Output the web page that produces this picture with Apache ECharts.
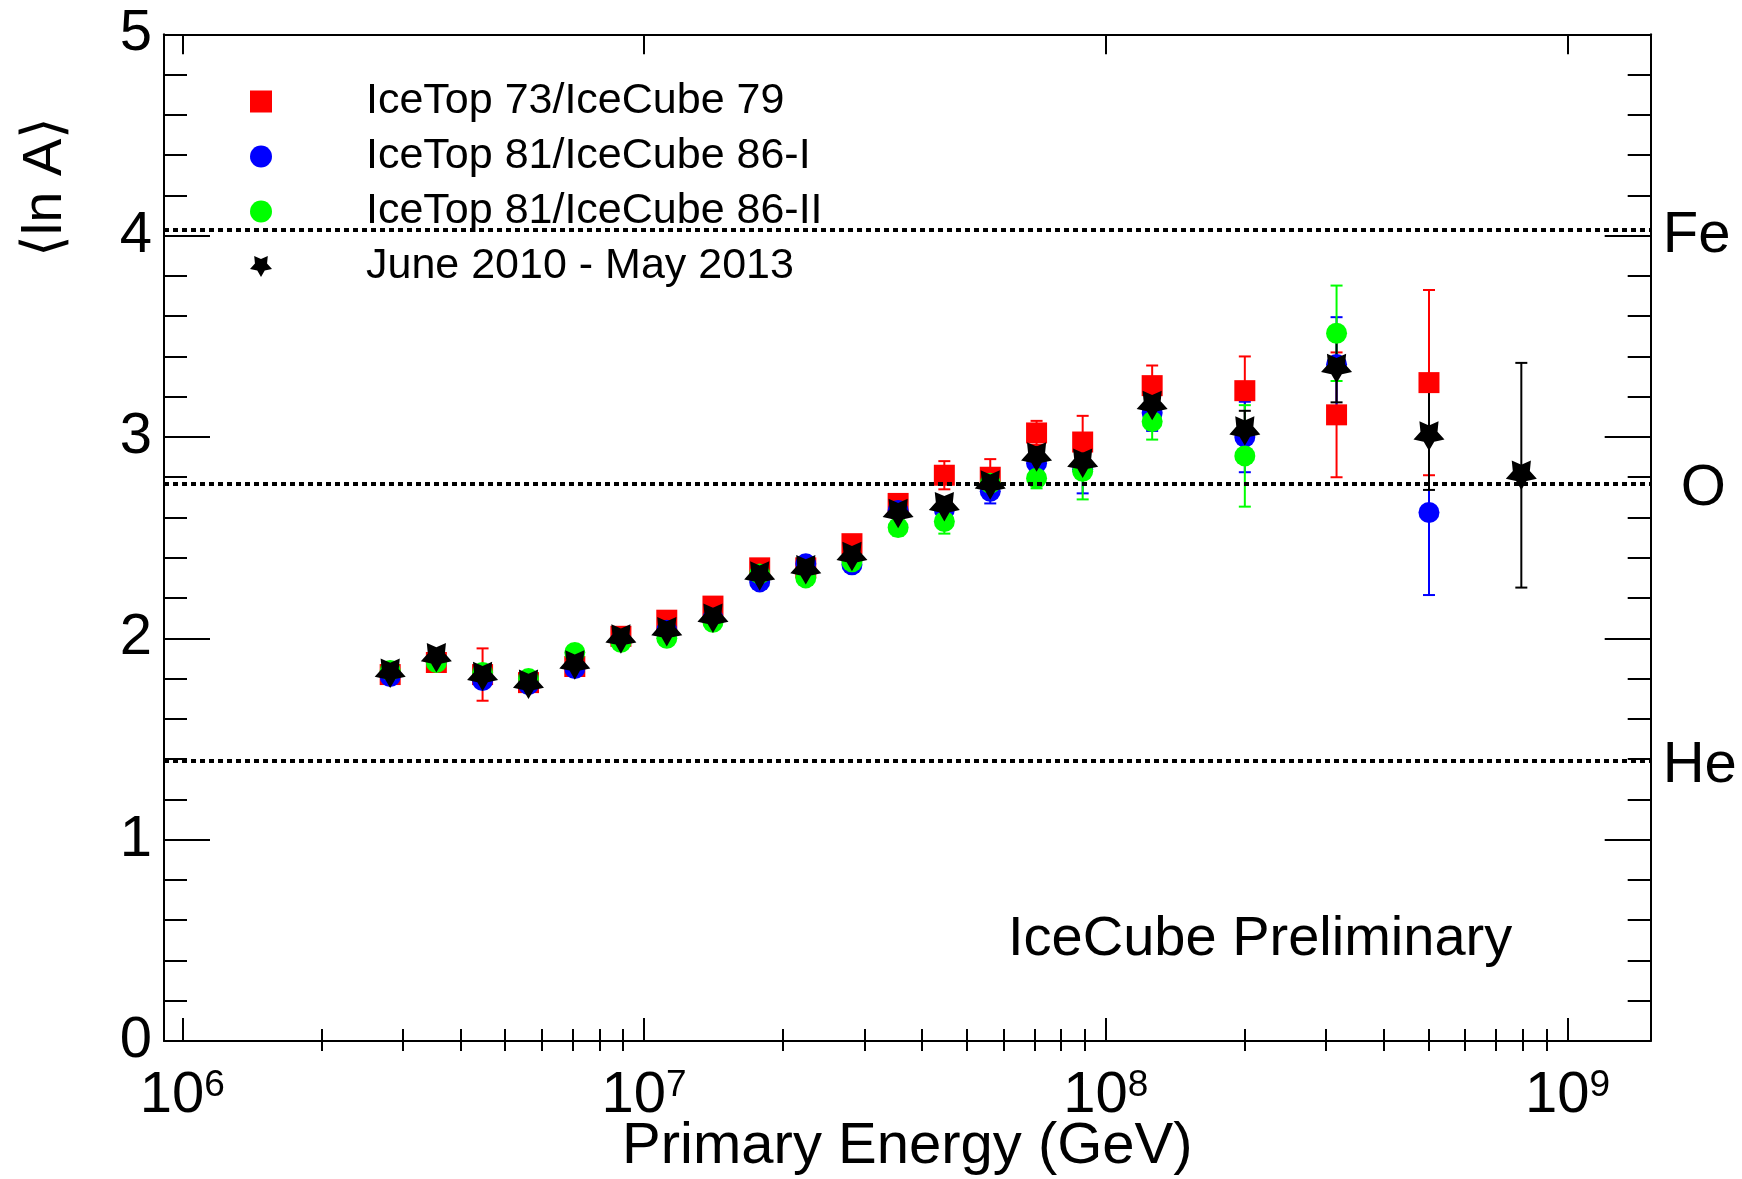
<!DOCTYPE html>
<html><head><meta charset="utf-8">
<script src="https://cdn.jsdelivr.net/npm/echarts@6/dist/echarts.min.js"></script>
<style>html,body{margin:0;padding:0;background:#fff}#c{width:1742px;height:1179px}</style>
</head><body><div id="c"></div>
<script>
// ---- data ----
const energyGeV = [2.82e6, 3.55e6, 4.47e6, 5.62e6, 7.08e6, 8.91e6, 1.12e7, 1.41e7, 1.78e7, 2.24e7,
                   2.82e7, 3.55e7, 4.47e7, 5.62e7, 7.08e7, 8.91e7, 1.26e8, 2.00e8, 3.16e8, 5.01e8, 7.94e8];
const lnA_IT73 = [1.82, 1.88, 1.82, 1.78, 1.86, 2.01, 2.09, 2.16, 2.35, 2.35, 2.47, 2.67, 2.81, 2.80, 3.02, 2.975, 3.255, 3.23, 3.11, 3.27];
const err_IT73 = [0.03, 0.03, 0.13, 0.03, 0.03, 0.03, 0.03, 0.03, 0.03, 0.03, 0.03, 0.04, 0.07, 0.09, 0.06, 0.13, 0.10, 0.17, 0.31, 0.46];
const lnA_IT81_I = [1.81, 1.89, 1.79, 1.77, 1.85, 1.99, 2.04, 2.10, 2.28, 2.37, 2.365, 2.635, 2.64, 2.73, 2.87, 2.84, 3.12, 3.00, 3.36, 2.625];
const err_IT81_I = [0.03, 0.03, 0.03, 0.03, 0.03, 0.03, 0.03, 0.03, 0.03, 0.03, 0.03, 0.04, 0.05, 0.06, 0.05, 0.12, 0.09, 0.175, 0.235, 0.41];
const lnA_IT81_II = [1.84, 1.88, 1.83, 1.80, 1.93, 1.98, 2.00, 2.08, 2.32, 2.30, 2.38, 2.55, 2.58, 2.77, 2.795, 2.83, 3.077, 2.906, 3.515];
const err_IT81_II = [0.03, 0.03, 0.03, 0.03, 0.03, 0.03, 0.03, 0.03, 0.03, 0.03, 0.03, 0.04, 0.06, 0.07, 0.05, 0.14, 0.09, 0.252, 0.237];
const lnA_all = [1.826, 1.903, 1.81, 1.772, 1.868, 1.997, 2.033, 2.10, 2.31, 2.34, 2.406, 2.62, 2.654, 2.762, 2.90, 2.87, 3.156, 3.03, 3.34, 3.005, 2.81];
const err_all = [0.03, 0.03, 0.03, 0.03, 0.03, 0.03, 0.03, 0.03, 0.03, 0.03, 0.03, 0.03, 0.04, 0.05, 0.05, 0.07, 0.108, 0.10, 0.168, 0.268, 0.558];
const seriesNames = ['IceTop 73/IceCube 79', 'IceTop 81/IceCube 86-I', 'IceTop 81/IceCube 86-II', 'June 2010 - May 2013'];
const xDecades = [6, 7, 8, 9];
const yTicks = [0, 1, 2, 3, 4, 5];
const refNames = ['Fe', 'O', 'He', 'p'];
const refMass = [56, 16, 4, 1];

// ---- styling ----
const FONT = 'Liberation Sans, Arial, Helvetica, sans-serif';
const XMIN = 5.9604, XMAX = 9.180;
// inverted five-pointed star (fat inner radius)
const STAR = 'path://M100 200 L67.7 144.5 L4.9 130.9 L47.7 83 L41.2 19.1 L100 45 L158.8 19.1 L152.3 83 L195.1 130.9 L132.3 144.5 Z';
const colors = ['#ff0000', '#0000ff', '#00ff00', '#000000'];
const symbols = ['rect', 'circle', 'circle', STAR];
const symSizes = [21, 21, 21, 31];
const labelDist = {Fe: 12, O: 30, He: 12, p: 38};
const labelShift = {Fe: 6.5, O: 5.5, He: 4.5, p: 0};

const values = [lnA_IT73, lnA_IT81_I, lnA_IT81_II, lnA_all];
const errors = [err_IT73, err_IT81_I, err_IT81_II, err_all];
const logE = energyGeV.map(e => Math.log10(e));

const xMinor = [];
for (let n = 6; n <= 8; n++) for (let k = 2; k <= 9; k++) xMinor.push(n + Math.log10(k));

function errRender(color) {
  return function (params, api) {
    const x = api.value(0), y = api.value(1), e = api.value(2);
    const t = api.coord([x, y + e]);
    const b = api.coord([x, y - e]);
    const hw = 6;
    const style = {stroke: color, lineWidth: 2};
    return {type: 'group', children: [
      {type: 'line', shape: {x1: t[0], y1: t[1], x2: b[0], y2: b[1]}, style: style},
      {type: 'line', shape: {x1: t[0] - hw, y1: t[1], x2: t[0] + hw, y2: t[1]}, style: style},
      {type: 'line', shape: {x1: b[0] - hw, y1: b[1], x2: b[0] + hw, y2: b[1]}, style: style}
    ]};
  };
}

const dotted = {color: '#000', width: 4, type: [5, 4], opacity: 1};

const series = [];
values.forEach((vals, i) => {
  const pts = vals.map((v, j) => [logE[j], v, errors[i][j]]);
  series.push({
    type: 'custom', name: seriesNames[i] + ' errors', renderItem: errRender(colors[i]),
    data: pts, encode: {x: 0, y: 1}, silent: true, animation: false
  });
  const s = {
    type: 'scatter', name: seriesNames[i], data: pts.map(p => [p[0], p[1]]),
    symbol: symbols[i], symbolSize: symSizes[i], symbolKeepAspect: true,
    itemStyle: {color: colors[i], opacity: 1}, silent: true, animation: false,
    emphasis: {disabled: true}
  };
  if (i === 3) {
    s.markLine = {
      silent: true, symbol: ['none', 'none'], animation: false,
      lineStyle: dotted,
      label: {show: true, position: 'end', color: '#000', fontSize: 58, fontFamily: FONT},
      emphasis: {disabled: true},
      data: refNames.map((nm, k) => ({
        name: nm, yAxis: Math.log(refMass[k]),
        label: {
          distance: labelDist[nm],
          formatter: '{t|' + nm + '}',
          rich: {t: {fontSize: 58, fontFamily: FONT, color: '#000', padding: [labelShift[nm] * 2, 0, 0, 0]}}
        },
        lineStyle: refMass[k] === 1 ? Object.assign({}, dotted, {opacity: 0}) : dotted
      }))
    };
  }
  series.push(s);
});

const axisLine = {show: true, onZero: false, lineStyle: {color: '#000', width: 2}};
const tickLS = {color: '#000', width: 2};

const option = {
  backgroundColor: '#fff',
  animation: false,
  grid: {left: 164, right: 91.3, top: 34.3, bottom: 138, containLabel: false, outerBoundsMode: 'none'},
  legend: {
    data: seriesNames.map((n, i) => ({name: n, icon: symbols[i]})),
    orient: 'vertical', left: 250, top: 80, padding: 0,
    itemWidth: 22, itemHeight: 22, itemGap: 12,
    selectedMode: false,
    textStyle: {fontSize: 43, fontFamily: FONT, color: '#000', lineHeight: 22, padding: [0, 0, 0, 89]}
  },
  xAxis: [
    {type: 'value', position: 'bottom', min: XMIN, max: XMAX, axisLine: axisLine,
     splitLine: {show: false},
     axisTick: {show: true, inside: true, length: 23, lineStyle: tickLS, customValues: xDecades},
     axisLabel: {show: true, customValues: xDecades, margin: 26,
       formatter: v => '{b|10}{s|' + Math.round(v) + '}',
       rich: {b: {fontSize: 58, lineHeight: 58, fontFamily: FONT, color: '#000'},
              s: {fontSize: 37, lineHeight: 12, verticalAlign: 'top', fontFamily: FONT, color: '#000'}}},
     name: 'Primary Energy (GeV)', nameLocation: 'middle', nameGap: 77, nameMoveOverlap: false,
     nameTextStyle: {fontSize: 58, fontFamily: FONT, color: '#000'}},
    {type: 'value', position: 'bottom', min: XMIN, max: XMAX, axisLine: {show: false},
     splitLine: {show: false}, axisLabel: {show: false},
     axisTick: {show: true, inside: true, length: 12, lineStyle: tickLS, customValues: xMinor}},
    {type: 'value', position: 'top', min: XMIN, max: XMAX, axisLine: axisLine,
     splitLine: {show: false}, axisLabel: {show: false},
     axisTick: {show: true, inside: true, length: 20, lineStyle: tickLS, customValues: xDecades}},
    {type: 'value', position: 'top', min: XMIN, max: XMAX, axisLine: {show: false},
     splitLine: {show: false}, axisLabel: {show: false},
     axisTick: {show: true, inside: true, length: 10, lineStyle: tickLS, customValues: xMinor}}
  ],
  yAxis: [
    {type: 'value', position: 'left', min: yTicks[0], max: yTicks[yTicks.length - 1], interval: 1,
     axisLine: axisLine, splitLine: {show: false},
     axisTick: {show: true, inside: true, length: 46, lineStyle: tickLS},
     minorTick: {show: true, splitNumber: 5, length: 23, lineStyle: tickLS},
     axisLabel: {show: true, margin: 12, fontSize: 58, fontFamily: FONT, color: '#000'}},
    {type: 'value', position: 'right', min: yTicks[0], max: yTicks[yTicks.length - 1], interval: 1,
     axisLine: axisLine, splitLine: {show: false},
     axisTick: {show: true, inside: true, length: 46, lineStyle: tickLS},
     minorTick: {show: true, splitNumber: 5, length: 23, lineStyle: tickLS},
     axisLabel: {show: false}}
  ],
  graphic: [
    {type: 'text', x: 46, y: 187, rotation: Math.PI / 2, silent: true,
     style: {text: '\u27E8ln A\u27E9', fontSize: 56, fontFamily: FONT, fill: '#000', align: 'center', verticalAlign: 'middle'}},
    {type: 'text', x: 1008, y: 940, silent: true,
     style: {text: 'IceCube Preliminary', fontSize: 56, fontFamily: FONT, fill: '#000', align: 'left', verticalAlign: 'middle'}}
  ],
  series: series
};

const chart = echarts.init(document.getElementById('c'), null, {renderer: 'canvas'});
chart.setOption(option);
</script>
</body></html>
